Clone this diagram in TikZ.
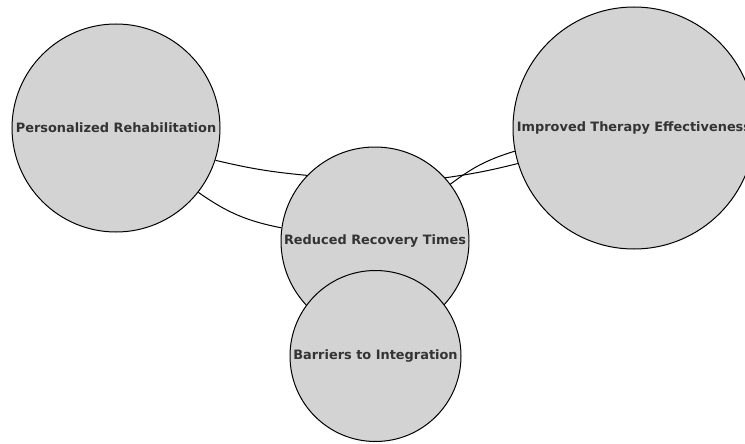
\documentclass[tikz,border=0pt]{standalone}
\usepackage{fontspec}
\setmainfont{DejaVu Sans}
\usepackage{tikz}
\definecolor{bubble}{HTML}{D3D3D3}
\definecolor{ink}{HTML}{333333}
\tikzset{
  topic/.style={circle,draw=black,line width=1pt,fill=bubble,inner sep=0pt,
    text=ink,font=\fontsize{12.9}{15}\selectfont\bfseries},
  link/.style={line width=1pt}
}

\begin{document}
\begin{tikzpicture}[x=1pt,y=-1pt]
\clip (0,0) rectangle (745,444);
\fill[white] (0,0) rectangle (745,444);
%
\node[topic,minimum size=208pt] (pers) at (116,128) {Personalized Rehabilitation};
\node[topic,minimum size=242pt] (ther) at (634,128) {Improved Therapy Effectiveness};
\node[topic,minimum size=188pt] (reco) at (375,241) {Reduced Recovery Times};
%
\draw[link] (pers.-18) to[bend right=4] (reco.136);
\draw[link] (pers.-38) to[bend right=12] (reco.172);
\draw[link] (reco.42) to[bend right=3] (ther.197);
\draw[link] (reco.37) to[bend left=10] (ther.191);
%
\node[topic,minimum size=171pt] (barr) at (375.5,356) {Barriers to Integration};
\end{tikzpicture}
\end{document}
